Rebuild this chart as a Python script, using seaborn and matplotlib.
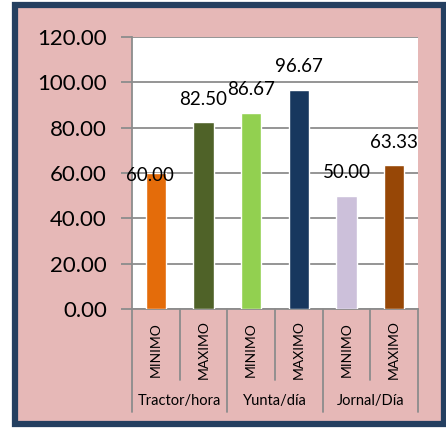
import matplotlib
matplotlib.use("Agg")
import matplotlib.pyplot as plt
import matplotlib.patches as mpatches
import seaborn as sns

# datos
grupos = ["Tractor/hora", "Yunta/día", "Jornal/Día"]
niveles = ["MINIMO", "MAXIMO"]
valores = [60.00, 82.50, 86.67, 96.67, 50.00, 63.33]
colores = ["#E46C0A", "#4F6228", "#92D050", "#17375E", "#CCC0DA", "#974706"]

etiquetas = [f"{g} {n}" for g in grupos for n in niveles]

sns.set_style("white")
plt.rcParams["font.family"] = ["Lato", "DejaVu Sans"]
plt.rcParams["text.color"] = "black"
plt.rcParams["ytick.color"] = "black"

fondo = "#E6B8B7"
gris = "#8C8C8C"

fig = plt.figure(figsize=(4.46, 4.28), dpi=100, facecolor="white")
# marco exterior
fig.patches.append(mpatches.Rectangle((15 / 446, 4 / 428), 429 / 446, 419 / 428,
                                      transform=fig.transFigure, facecolor=fondo,
                                      edgecolor="#243F60", linewidth=4.5, zorder=-5))

ax = fig.add_axes([132 / 446, (428 - 309) / 428, 286 / 446, 272 / 428])
ax.set_facecolor("white")

sns.barplot(x=etiquetas, y=valores, hue=etiquetas, palette=colores,
            legend=False, width=0.42, saturation=1, ax=ax, zorder=3)

ax.set_ylim(0, 120)
ax.set_xlim(-0.5, 5.5)
ax.set_yticks(range(0, 121, 20))
ax.set_yticklabels([f"{v:.2f}" for v in range(0, 121, 20)], fontsize=16)
ax.yaxis.grid(True, color=gris, linewidth=1.3, zorder=0)
ax.set_axisbelow(True)
ax.tick_params(axis="y", length=8, width=1.3, color=gris, labelcolor="black",
               pad=10, left=True)
ax.tick_params(axis="x", bottom=False, labelbottom=False)
ax.set_xlabel("")
ax.set_ylabel("")
for s in ["top", "right"]:
    ax.spines[s].set_visible(False)
for s in ["left", "bottom"]:
    ax.spines[s].set_color(gris)
    ax.spines[s].set_linewidth(1.3)

# etiquetas de valores
for i, v in enumerate(valores):
    if i == 0:
        ax.annotate(f"{v:.2f}", (i, v), xytext=(-4, -1.5), textcoords="offset points",
                    ha="center", va="center", fontsize=13.5)
    else:
        ax.annotate(f"{v:.2f}", (i, v), xytext=(0, 16.5), textcoords="offset points",
                    ha="center", va="center", fontsize=13.5)

# eje de categorias
tr = ax.get_xaxis_transform()
for k in range(7):
    x = k - 0.5
    y_fin = -0.379 if k % 2 == 0 else -0.26
    ax.plot([x, x], [0, y_fin], transform=tr, color=gris, lw=1.3, clip_on=False)
for i, n in enumerate(niveles * len(grupos)):
    ax.text(i, -0.15, n, transform=tr, rotation=90, ha="center", va="center",
            fontsize=10)
for j, g in enumerate(grupos):
    ax.text(2 * j + 0.5, -0.34, g, transform=tr, ha="center", va="center",
            fontsize=10.5)

fig.savefig("out.png", dpi=100, facecolor="white")
